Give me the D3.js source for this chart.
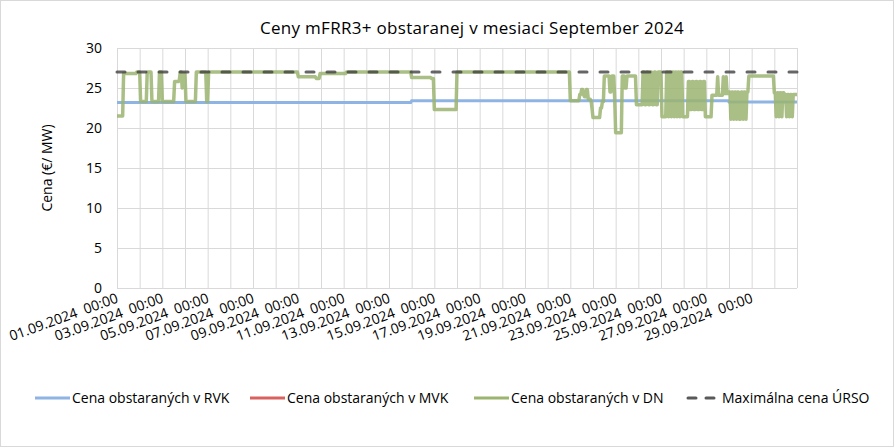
<!DOCTYPE html>
<html>
<head>
<meta charset="utf-8">
<script src="https://cdn.jsdelivr.net/npm/d3@7"></script>
<style>
  body { margin: 0; background: #fff; }
  svg { font-family: "Open Sans", "Noto Sans", sans-serif; }
  .grid line { stroke: #d9d9d9; stroke-width: 1; }
  .grid path { display: none; }
  .tick-label { fill: #000; font-size: 14px; }
  .title { font-size: 17px; letter-spacing: 0.3px; fill: #000; }
  .legend text { font-size: 14px; fill: #000; }
</style>
</head>
<body>
<svg id="chart" width="894" height="447"></svg>
<script>
// hodiny od 01.09.2024 00:00, 720 h v mesiaci
const hoursInMonth = 720;

// x labels every 2 days
const dayLabels = ['01.09.2024  00:00', '03.09.2024  00:00', '05.09.2024  00:00', '07.09.2024  00:00',
  '09.09.2024  00:00', '11.09.2024  00:00', '13.09.2024  00:00', '15.09.2024  00:00',
  '17.09.2024  00:00', '19.09.2024  00:00', '21.09.2024  00:00', '23.09.2024  00:00',
  '25.09.2024  00:00', '27.09.2024  00:00', '29.09.2024  00:00'];
const labelHours = [0, 48, 96, 144, 192, 240, 288, 336, 384, 432, 480, 528, 576, 624, 672];
const dayGridHours = d3.range(0, hoursInMonth + 1, 24);

const priceTicks = [0, 5, 10, 15, 20, 25, 30];

// Cena obstaranych v RVK (change hour -> price)
const rvkHours = [0, 312, 648, 720];
const rvkPrices = [23.2, 23.4, 23.25, 23.25];

// Cena obstaranych v MVK - ziadne hodnoty v grafe
const mvkHours = [];
const mvkPrices = [];

// Cena obstaranych v DN (change hour -> price)
const dnHours = [0, 7, 21, 25, 32, 37, 45, 48, 61, 66, 67, 69, 70, 73, 84, 95, 97,
  192, 211, 215, 243,
  312, 333, 336, 360,
  480, 490, 492, 494, 495, 497, 499, 502, 503, 504, 512, 514, 516, 522, 524, 527, 528, 535, 538, 540, 550,
  557, 559, 561, 563, 565, 567, 569, 571, 573, 577,
  582, 584, 585, 587, 588, 590, 591, 593, 594, 596, 597, 599, 605,
  607, 609, 611, 613, 615, 617, 619, 621, 623, 630,
  636, 637, 642, 643, 645, 646, 648,
  650, 651, 653, 654, 656, 657, 659, 661, 663, 664, 666, 667, 669,
  696, 698, 699, 701, 702, 704, 705, 707, 709, 710, 712, 713, 715, 716, 720];
const dnPrices = [21.5, 26.8, 27, 23.3, 27, 23.3, 27, 23.3, 25.8, 26, 27, 25, 26.8, 23.3, 27, 23.3, 27,
  26.4, 26.2, 26.8, 27,
  26.3, 26.2, 22.3, 27,
  23.4, 24.2, 24.8, 24.2, 23.9, 24.8, 23.6, 23.4, 22.4, 21.3, 22.5, 23.3, 26.5, 24.5, 26.5, 23.5, 19.4, 26.5, 25, 26.5, 22.9,
  27, 22.9, 27, 22.9, 27, 22.9, 27, 22.9, 27, 21.4,
  27, 21.4, 27, 21.4, 27, 21.4, 27, 21.4, 27, 21.4, 27, 21.4, 25.8,
  22.3, 25.8, 22.3, 25.8, 22.3, 25.8, 22.3, 25.8, 21.4, 24.1,
  26.4, 24.1, 26.4, 24.3, 26.4, 24.3, 24.5,
  21.1, 24.5, 21.1, 24.5, 21.1, 24.5, 21.1, 24.5, 21.1, 24.5, 21.1, 24.5, 26.5,
  24.4, 21.4, 24.4, 21.4, 24.4, 21.4, 24.4, 24.2, 21.4, 24.2, 21.4, 24.2, 21.4, 24.2, 24.2];

// Maximalna cena URSO
const ursoHours = [0, 720];
const ursoPrices = [27, 27];

const seriesNames = ['Cena obstaraných v RVK', 'Cena obstaraných v MVK', 'Cena obstaraných v DN', 'Maximálna cena ÚRSO'];

const svg = d3.select('#chart');
const margin = { top: 48, right: 97, bottom: 159, left: 117 };
const width = 894 - margin.left - margin.right;
const height = 447 - margin.top - margin.bottom;

// chart border
svg.append('rect')
  .attr('x', 0.5).attr('y', 0.5)
  .attr('width', 893).attr('height', 446)
  .attr('fill', '#fff')
  .attr('stroke', '#d9d9d9');

const chart = svg.append('g')
  .attr('transform', `translate(${margin.left}, ${margin.top})`);

const xScale = d3.scaleLinear().domain([0, hoursInMonth]).range([0, width]);
const yScale = d3.scaleLinear().domain([0, 30]).range([height, 0]);

// horizontal grid
chart.append('g')
  .attr('class', 'grid')
  .call(d3.axisLeft(yScale).tickValues(priceTicks).tickSize(-width).tickFormat(''));

// vertical grid (every day)
chart.append('g')
  .attr('class', 'grid')
  .attr('transform', `translate(0, ${height})`)
  .call(d3.axisBottom(xScale).tickValues(dayGridHours).tickSize(-height).tickFormat(''));

// y labels
chart.append('g')
  .selectAll('text')
  .data(priceTicks)
  .enter()
  .append('text')
  .attr('class', 'tick-label')
  .attr('x', -15)
  .attr('y', (d) => yScale(d))
  .attr('dy', '0.35em')
  .attr('text-anchor', 'end')
  .text((d) => d);

// x labels, rotated
chart.append('g')
  .selectAll('text')
  .data(labelHours)
  .enter()
  .append('text')
  .attr('class', 'tick-label')
  .attr('text-anchor', 'end')
  .attr('xml:space', 'preserve')
  .style('white-space', 'pre')
  .attr('transform', (h) => `translate(${xScale(h) + 2}, ${height + 14}) rotate(-20)`)
  .text((h, i) => dayLabels[i]);

// hodinove body ako v Exceli: hodnota drzi do predch. hodiny, prechod trva 1 h
function hourly(hours, prices) {
  const pts = [];
  hours.forEach((h, i) => {
    if (i > 0 && h - 1 > hours[i - 1]) pts.push([h - 1, prices[i - 1]]);
    pts.push([h, prices[i]]);
  });
  return pts;
}

const line = d3.line()
  .x((d) => xScale(d[0]))
  .y((d) => yScale(d[1]));

const rvk = hourly(rvkHours, rvkPrices);
const mvk = hourly(mvkHours, mvkPrices);
const dn = hourly(dnHours, dnPrices);
const urso = hourly(ursoHours, ursoPrices);

chart.append('path')
  .datum(rvk)
  .attr('fill', 'none')
  .attr('stroke', '#8eb4e3')
  .attr('stroke-width', 3)
  .attr('d', line);

if (mvk.length) {
  chart.append('path')
    .datum(mvk)
    .attr('fill', 'none')
    .attr('stroke', '#d9625f')
    .attr('stroke-width', 3)
    .attr('d', line);
}

chart.append('path')
  .datum(dn)
  .attr('fill', 'none')
  .attr('stroke', '#9bb470')
  .attr('stroke-opacity', 0.85)
  .attr('stroke-width', 3.5)
  .attr('stroke-linejoin', 'round')
  .attr('d', line);

chart.append('path')
  .datum(urso)
  .attr('fill', 'none')
  .attr('stroke', '#404040')
  .attr('stroke-opacity', 0.8)
  .attr('stroke-width', 3)
  .attr('stroke-linecap', 'round')
  .attr('stroke-dasharray', '8,13')
  .attr('d', line);

// y axis title
svg.append('text')
  .attr('class', 'tick-label')
  .attr('transform', `translate(52, ${margin.top + height / 2}) rotate(-90)`)
  .attr('text-anchor', 'middle')
  .text('Cena (€/ MW)');

svg.append('text')
  .attr('class', 'title')
  .attr('x', 472)
  .attr('y', 34)
  .attr('text-anchor', 'middle')
  .text('Ceny mFRR3+ obstaranej v mesiaci September 2024');

// legend
const legendX = [35, 250, 474, 686];
const legendColors = ['#8eb4e3', '#d9625f', '#9bb470', '#595959'];
const legend = svg.append('g').attr('class', 'legend');
seriesNames.forEach((name, i) => {
  const g = legend.append('g').attr('transform', `translate(${legendX[i]}, 398)`);
  g.append('line')
    .attr('stroke', legendColors[i])
    .attr('stroke-width', 3)
    .attr('stroke-linecap', i === 3 ? 'round' : 'butt')
    .attr('stroke-dasharray', i === 3 ? '8,10' : null)
    .attr('x1', i === 3 ? 2 : 0)
    .attr('x2', i === 3 ? 30 : 35);
  g.append('text')
    .attr('x', i === 3 ? 36 : 37)
    .attr('dy', '0.35em')
    .text(name);
});
</script>
</body>
</html>
